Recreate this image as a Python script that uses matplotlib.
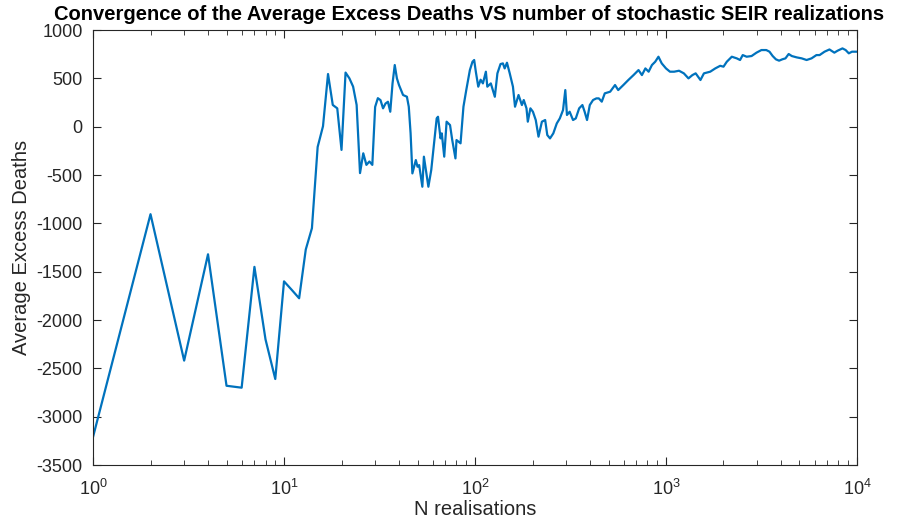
import numpy as np
import matplotlib.pyplot as plt

# running average of excess deaths
n_real = [1, 2, 3, 4, 5, 6, 7, 8, 9, 10, 11, 12, 13, 14, 15, 16, 17, 18, 19, 20,
          21, 22, 23, 24, 25, 26, 27, 28, 29, 30, 31, 32, 33, 34, 35, 36, 37, 38, 39, 40,
          42, 44, 45, 46, 47, 49, 50, 51, 53, 54, 55, 57, 59, 61, 63, 64, 66, 67, 69, 71,
          74, 76, 79, 80, 84, 87, 90, 94, 97, 99, 101, 104, 107, 110, 114, 116, 121, 127,
          131, 136, 140, 143, 147, 152, 158, 162, 169, 176, 180, 186, 189, 195, 201, 208,
          215, 224, 233, 239, 247, 257, 268, 278, 289, 297, 303, 313, 326, 337, 351, 365,
          375, 386, 399, 415, 432, 445, 461, 478, 510, 541, 562, 598, 635, 676, 718, 748,
          780, 811, 844, 878, 913, 950, 1000, 1049, 1103, 1170, 1240, 1311, 1375, 1430,
          1515, 1580, 1704, 1811, 1922, 2000, 2081, 2211, 2347, 2442, 2522, 2644, 2805,
          2977, 3159, 3350, 3482, 3619, 3762, 3909, 4063, 4222, 4388, 4559, 4838, 5134,
          5447, 5780, 6133, 6371, 6762, 7174, 7612, 7910, 8393, 8720, 9062, 9417, 10000]
avg_deaths = [-3210, -905, -2420, -1320, -2680, -2700, -1450, -2200, -2610, -1600,
              -1690, -1775, -1270, -1050, -210, 5, 545, 225, 190, -240,
              560, 500, 415, 225, -480, -275, -395, -360, -395, 205, 295, 275, 190, 240, 258, 155,
              448, 638, 500, 431,
              328, 310, 207, -69, -483, -345, -414, -397, -621, -310, -414, -621, -448, -172,
              86, 103, -121, -69, -310, 52,
              17, -138, -328, -138, -172, 207, 379, 586, 672, 690, 569, 414, 486, 448, 569,
              414, 448, 310,
              552, 648, 655, 603, 662, 552, 414, 207, 328, 224, 276, 190, 52, 190, 155, 69,
              -103, 52, 69, -86, -121, -69, 34, 86, 172, 379, 121, 155, 69, 86, 190, 224,
              155, 69, 224, 276, 293, 293, 259, 345, 362, 431, 379, 431, 483, 534, 586, 534,
              603, 569, 638, 672, 724, 655, 603, 569, 569, 579, 552, 500, 534, 552,
              483, 552, 569, 603, 630, 621, 672, 724, 707, 690, 741, 724, 731,
              766, 793, 793, 776, 731, 697, 683, 697, 707, 752, 731, 717, 707,
              690, 707, 741, 741, 776, 799, 766, 786, 810, 793, 759, 776, 776]

plt.rcParams['font.family'] = ['Liberation Sans', 'DejaVu Sans']
plt.rcParams['axes.unicode_minus'] = False

fig = plt.figure(figsize=(9.04, 5.27), dpi=100)
ax = fig.add_axes([0.1029, 0.1176, 0.8451, 0.8254])

ax.plot(n_real, avg_deaths, color=(0, 0.447, 0.741), lw=1.6)
ax.set_xscale('log')
ax.set_xlim(1, 1e4)
ax.set_ylim(-3500, 1000)
ax.set_yticks(np.arange(-3500, 1001, 500))

gray = (0.15, 0.15, 0.15)
for s in ax.spines.values():
    s.set_color(gray)
    s.set_linewidth(0.8)
ax.tick_params(which='both', direction='in', top=True, right=True, colors=gray,
               labelsize=13, labelcolor=gray)
ax.tick_params(which='major', length=6)
ax.tick_params(which='minor', length=3.5)
ax.tick_params(axis='x', pad=10)
ax.tick_params(axis='y', pad=7.5)

ax.set_xlabel('N realisations', fontsize=14.5, color=gray, labelpad=1)
ax.set_ylabel('Average Excess Deaths', fontsize=14.5, color=gray, labelpad=4)
# title sits slightly left of the axes centre in the reference
fig.text(469 / 904, 1 - 20 / 527, 'Convergence of the Average Excess Deaths VS number of stochastic SEIR realizations',
         fontsize=14.5, fontweight='bold', ha='center', va='baseline')

fig.savefig('out.png')
